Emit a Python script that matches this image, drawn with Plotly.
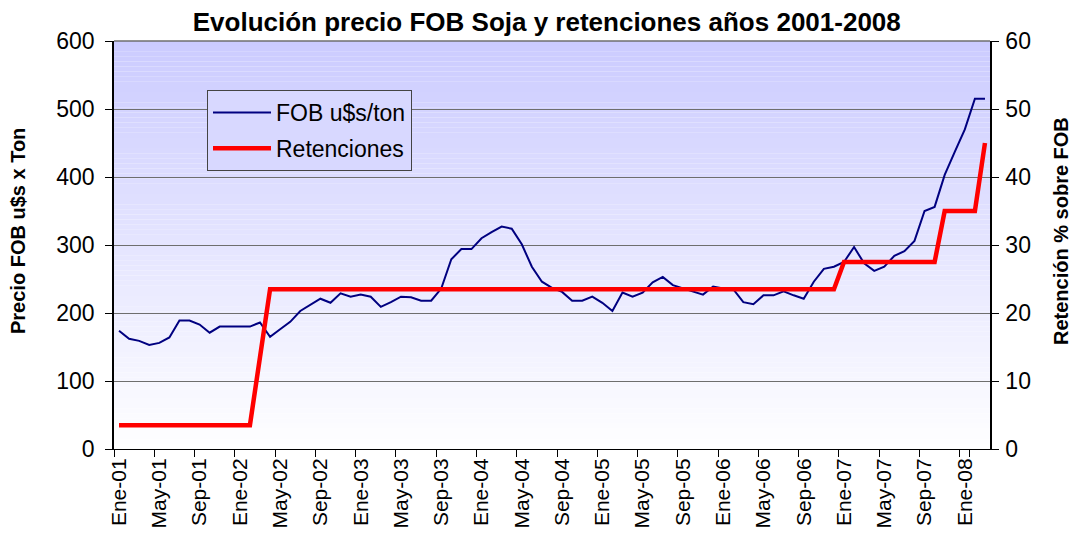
import plotly.graph_objects as go

# ---- data ----
categories = [
    "Ene-01", "Feb-01", "Mar-01", "Abr-01", "May-01", "Jun-01", "Jul-01", "Ago-01", "Sep-01", "Oct-01", "Nov-01", "Dic-01",
    "Ene-02", "Feb-02", "Mar-02", "Abr-02", "May-02", "Jun-02", "Jul-02", "Ago-02", "Sep-02", "Oct-02", "Nov-02", "Dic-02",
    "Ene-03", "Feb-03", "Mar-03", "Abr-03", "May-03", "Jun-03", "Jul-03", "Ago-03", "Sep-03", "Oct-03", "Nov-03", "Dic-03",
    "Ene-04", "Feb-04", "Mar-04", "Abr-04", "May-04", "Jun-04", "Jul-04", "Ago-04", "Sep-04", "Oct-04", "Nov-04", "Dic-04",
    "Ene-05", "Feb-05", "Mar-05", "Abr-05", "May-05", "Jun-05", "Jul-05", "Ago-05", "Sep-05", "Oct-05", "Nov-05", "Dic-05",
    "Ene-06", "Feb-06", "Mar-06", "Abr-06", "May-06", "Jun-06", "Jul-06", "Ago-06", "Sep-06", "Oct-06", "Nov-06", "Dic-06",
    "Ene-07", "Feb-07", "Mar-07", "Abr-07", "May-07", "Jun-07", "Jul-07", "Ago-07", "Sep-07", "Oct-07", "Nov-07", "Dic-07",
    "Ene-08", "Feb-08", "Mar-08",
]

fob = [
    174, 162, 159, 153, 156, 164, 189, 189, 183, 171, 180, 180,
    180, 180, 186, 165, 176, 187, 203, 212, 221, 215, 229, 224,
    227, 224, 209, 216, 224, 223, 218, 218, 236, 279, 294, 294,
    310, 319, 327, 324, 301, 268, 246, 237, 231, 218, 218, 224,
    215, 203, 230, 224, 230, 245, 253, 241, 236, 231, 227, 239,
    236, 235, 216, 213, 226, 226, 232, 226, 221, 246, 265, 268,
    275, 297, 273, 262, 268, 284, 291, 306, 350, 356, 403, 437,
    470, 515, 515,
]

retenciones = [
    3.5, 3.5, 3.5, 3.5, 3.5, 3.5, 3.5, 3.5, 3.5, 3.5, 3.5, 3.5,
    3.5, 3.5, 13.5, 23.5, 23.5, 23.5, 23.5, 23.5, 23.5, 23.5, 23.5, 23.5,
    23.5, 23.5, 23.5, 23.5, 23.5, 23.5, 23.5, 23.5, 23.5, 23.5, 23.5, 23.5,
    23.5, 23.5, 23.5, 23.5, 23.5, 23.5, 23.5, 23.5, 23.5, 23.5, 23.5, 23.5,
    23.5, 23.5, 23.5, 23.5, 23.5, 23.5, 23.5, 23.5, 23.5, 23.5, 23.5, 23.5,
    23.5, 23.5, 23.5, 23.5, 23.5, 23.5, 23.5, 23.5, 23.5, 23.5, 23.5, 23.5,
    27.5, 27.5, 27.5, 27.5, 27.5, 27.5, 27.5, 27.5, 27.5, 27.5, 35, 35,
    35, 35, 45,
]

tick_labels = [
    "Ene-01", "May-01", "Sep-01", "Ene-02", "May-02", "Sep-02", "Ene-03", "May-03",
    "Sep-03", "Ene-04", "May-04", "Sep-04", "Ene-05", "May-05", "Sep-05", "Ene-06",
    "May-06", "Sep-06", "Ene-07", "May-07", "Sep-07", "Ene-08",
]

left_ticks = [0, 100, 200, 300, 400, 500, 600]
right_ticks = [0, 10, 20, 30, 40, 50, 60]

FONT = "Liberation Sans, Arial, sans-serif"

fig = go.Figure()
fig.add_trace(go.Scatter(
    x=categories, y=fob, name="FOB u$s/ton", mode="lines",
    line=dict(color="#000080", width=2), legendgroup="a", yaxis="y",
))
fig.add_trace(go.Scatter(
    x=categories, y=retenciones, name="Retenciones", mode="lines",
    line=dict(color="#FF0000", width=4.5), legendgroup="b", yaxis="y2",
))

# vertical gradient plot-area background (lavender at top -> white at bottom)
N = 80
shapes = []
for k in range(N):
    t = (k + 0.5) / N
    r = round(255 - 52 * t)
    shapes.append(dict(
        type="rect", xref="x domain", yref="y domain",
        x0=0, x1=1, y0=k / N, y1=(k + 1) / N,
        fillcolor=f"rgb({r},{r},255)", line=dict(width=0), layer="below",
    ))

fig.update_layout(
    width=1074, height=533,
    margin=dict(l=114, r=84, t=41, b=84, pad=0, autoexpand=False),
    paper_bgcolor="white",
    plot_bgcolor="rgba(0,0,0,0)",
    font=dict(family=FONT, color="black"),
    shapes=shapes,
    title=dict(
        text="<b>Evolución precio FOB Soja y retenciones años 2001-2008</b>",
        font=dict(size=26, family=FONT, color="black"),
        x=0.494, xref="paper", xanchor="center",
        y=1 - 22 / 533, yref="container", yanchor="middle",
    ),
    xaxis=dict(
        type="category", range=[-0.5, len(categories) - 0.5],
        tickmode="array", tickvals=tick_labels, ticktext=tick_labels,
        tickson="boundaries", ticks="outside", ticklen=7, tickcolor="black",
        tickangle=-90, tickfont=dict(size=21, family=FONT),
        showgrid=False, showline=True, linecolor="black", linewidth=1,
        mirror=False, zeroline=False, automargin=False,
    ),
    yaxis=dict(
        range=[0, 600], tickmode="array", tickvals=left_ticks,
        ticks="outside", ticklen=7, tickcolor="black",
        tickfont=dict(size=23, family=FONT), ticklabelstandoff=6,
        showgrid=True, gridcolor="#6e6e6e", gridwidth=1,
        showline=True, linecolor="black", linewidth=1.5, zeroline=False,
        automargin=False,
    ),
    yaxis2=dict(
        range=[0, 60], tickmode="array", tickvals=right_ticks,
        overlaying="y", side="right",
        ticks="outside", ticklen=7, tickcolor="black",
        tickfont=dict(size=23, family=FONT), ticklabelstandoff=2,
        showgrid=False, showline=True, linecolor="black", linewidth=1.5,
        zeroline=False, automargin=False,
    ),
    legend=dict(
        x=(207 - 114) / 876, y=(449 - 90) / 408, xanchor="left", yanchor="top",
        bgcolor="rgb(216,216,255)", bordercolor="#444444", borderwidth=1,
        font=dict(size=23, family=FONT, color="black"),
        itemwidth=58, tracegroupgap=3, traceorder="grouped",
    ),
    annotations=[
        dict(text="<b>Precio FOB u$s x Ton</b>", textangle=-90,
             xref="paper", yref="paper", x=(18 - 114) / 876, y=(449 - 231) / 408,
             xanchor="center", yanchor="middle", showarrow=False,
             font=dict(size=20, family=FONT, color="black")),
        dict(text="<b>Retención % sobre FOB</b>", textangle=-90,
             xref="paper", yref="paper", x=(1061 - 114) / 876, y=(449 - 231) / 408,
             xanchor="center", yanchor="middle", showarrow=False,
             font=dict(size=20, family=FONT, color="black")),
    ],
)

# top border of the plot area
fig.add_shape(type="line", xref="x domain", yref="y domain", x0=0, x1=1, y0=1, y1=1,
              line=dict(color="#6e6e6e", width=1.5))

fig.write_html("out.html", config={"displayModeBar": False},
               post_script="document.body.style.margin='0';")
